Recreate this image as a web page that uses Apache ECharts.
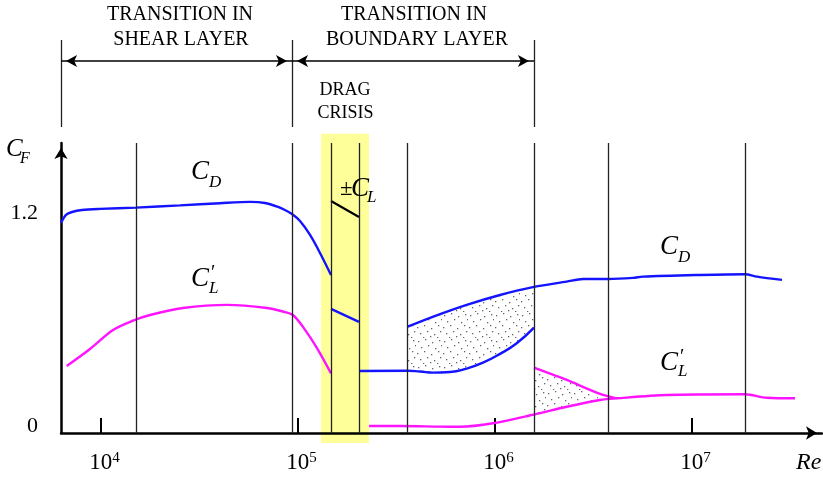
<!DOCTYPE html>
<html>
<head>
<meta charset="utf-8">
<script src="https://cdn.jsdelivr.net/npm/echarts@6/dist/echarts.min.js"></script>
<style>
  html, body { margin: 0; padding: 0; background: #fff; }
  #chart { width: 823px; height: 477px; }
</style>
</head>
<body>
<div id="chart"></div>
<script>
// Reynolds-number axis (log scale)
const reMin = 6266;
const reMax = 45700000;
const reTicks = [1e4, 1e5, 1e6, 1e7];
const cfTicks = [0, 1.2];

// Regime boundaries
const regimeLines = [15060, 93220, 147100, 203900, 357600, 1577000, 3746000, 18580000];
const headerLines = [6266, 93220, 1577000];
const shearLayerSpan = [6266, 93220];
const boundaryLayerSpan = [93220, 1577000];
const dragCrisisSpan = [130900, 229300];

// Mean drag coefficient, subcritical range
const cdSubRe = [6266, 6643, 7126, 8010, 9884, 15060, 25180, 40180, 57060, 68000, 79150, 85850, 93220, 102400, 115100, 129350, 147100];
const cdSubVal = [1.144, 1.188, 1.204, 1.215, 1.221, 1.228, 1.240, 1.252, 1.259, 1.253, 1.232, 1.215, 1.193, 1.155, 1.079, 0.981, 0.861];

// Drag coefficient inside the drag crisis
const cdCrisisRe = [147100, 203900];
const cdCrisisVal = [0.676, 0.605];

// Steady lift (+/- C_L) inside the drag crisis
const clSteadyRe = [147100, 203900];
const clSteadyVal = [1.264, 1.177];

// Drag coefficient, lower branch (supercritical)
const cdLowerRe = [203900, 360600, 416300, 484600, 590900, 718300, 869000, 1060300, 1289000, 1577000];
const cdLowerVal = [0.338, 0.339, 0.335, 0.329, 0.332, 0.351, 0.383, 0.431, 0.489, 0.574];

// Drag coefficient, upper branch (supercritical to transcritical)
const cdUpperRe = [360600, 486300, 718300, 1060300, 1577000, 2312000, 2797000, 3746000, 5018000, 5640000, 10980000, 18580000, 21380000, 28630000];
const cdUpperVal = [0.579, 0.634, 0.698, 0.752, 0.796, 0.825, 0.839, 0.839, 0.845, 0.852, 0.861, 0.865, 0.852, 0.834];

// Fluctuating lift coefficient, subcritical range
const clSubRe = [6697, 8794, 11507, 14540, 17734, 26080, 43610, 69590, 85850, 94330, 106000, 124870, 147100];
const clSubVal = [0.365, 0.458, 0.561, 0.612, 0.643, 0.681, 0.698, 0.681, 0.659, 0.643, 0.578, 0.463, 0.325];

// Fluctuating lift coefficient, lower branch
const clLowerRe = [229300, 329500, 525800, 664200, 976800, 1577000, 2312000, 3412000, 4148000, 7440000, 18580000, 23940000, 33330000];
const clLowerVal = [0.038, 0.038, 0.035, 0.034, 0.053, 0.101, 0.143, 0.180, 0.189, 0.207, 0.211, 0.192, 0.189];

// Fluctuating lift coefficient, upper branch
const clUpperRe = [1577000, 2312000, 3412000, 4148000];
const clUpperVal = [0.356, 0.289, 0.213, 0.189];

// Scatter bands between branches
const cdBandSpan = [360600, 1577000];
const clBandSpan = [1577000, 4148000];

const BLUE = '#1414ff';
const MAGENTA = '#ff14ff';
const SERIF = 'Liberation Serif';

function pairs(xs, ys) { return xs.map((x, i) => [x, ys[i]]); }
function within(pts, span) { return pts.filter(p => p[0] >= span[0] - 1 && p[0] <= span[1] + 1); }

// Stipple texture for the scatter bands
function stipple() {
  const c = document.createElement('canvas');
  c.width = 26; c.height = 26;
  const g = c.getContext('2d');
  g.fillStyle = '#666';
  const dots = [[2,3],[9,1],[16,4],[23,2],[5,9],[12,7],[19,10],[25,7],[1,15],[8,13],[15,16],[22,13],
                [4,21],[11,19],[18,22],[24,19],[7,25],[14,24],[21,25]];
  dots.forEach(d => g.fillRect(d[0], d[1], 1.3, 1.3));
  return c;
}
const stipplePattern = { image: stipple(), repeat: 'repeat' };

function band(upper, lower, span) {
  const up = within(upper, span);
  const lo = within(lower, span).reverse();
  return {
    type: 'custom', xAxisIndex: 0, yAxisIndex: 0, z: 1, silent: true,
    data: [[span[0], 0]],
    renderItem: (params, api) => ({
      type: 'polygon',
      shape: { points: up.concat(lo).map(p => api.coord(p)) },
      style: { fill: stipplePattern, stroke: null }
    })
  };
}

function curve(xs, ys, color, width, smooth) {
  return {
    type: 'line', xAxisIndex: 0, yAxisIndex: 0, z: 3,
    data: pairs(xs, ys), showSymbol: false, symbol: 'none',
    smooth: smooth, lineStyle: { color: color, width: width }, silent: true
  };
}

function t(x, y, text, size, italic, align) {
  return {
    type: 'text', x: x, y: y, z: 10, silent: true,
    style: {
      text: text, fill: '#000', align: align || 'left', verticalAlign: 'middle',
      font: (italic ? 'italic ' : '') + size + 'px "' + SERIF + '"'
    }
  };
}

const chart = echarts.init(document.getElementById('chart'), null, { renderer: 'canvas' });

chart.setOption({
  animation: false,
  backgroundColor: '#fff',
  grid: [
    { left: 61, top: 143, width: 761, height: 290 },
    { left: 61, top: 40, width: 761, height: 87 }
  ],
  xAxis: [
    {
      type: 'log', logBase: 10, min: reMin, max: reMax, gridIndex: 0,
      axisLine: { show: true, lineStyle: { color: '#000', width: 2.5 },
        symbol: ['none', 'arrow'], symbolSize: [10, 11], symbolOffset: [0, -5] },
      axisTick: { show: true, inside: true, length: 15, lineStyle: { color: '#000', width: 2 }, customValues: reTicks },
      minorTick: { show: false },
      splitLine: { show: false },
      axisLabel: {
        customValues: reTicks, margin: 18,
        formatter: v => '{b|10}{e|' + Math.round(Math.log10(v)) + '}',
        rich: {
          b: { fontFamily: SERIF, fontSize: 23, color: '#000', padding: [0, 0, 0, 7] },
          e: { fontFamily: SERIF, fontSize: 15, color: '#000', verticalAlign: 'top', padding: [0, 0, 6, 0] }
        }
      }
    },
    {
      type: 'log', logBase: 10, min: reMin, max: reMax, gridIndex: 1, show: false
    }
  ],
  yAxis: [
    {
      type: 'value', min: 0, max: 1.58, gridIndex: 0,
      axisLine: { show: true, lineStyle: { color: '#000', width: 2.5 },
        symbol: ['none', 'arrow'], symbolSize: [10, 11], symbolOffset: [0, -5] },
      axisTick: { show: false },
      splitLine: { show: false },
      axisLabel: {
        customValues: cfTicks, margin: 23,
        formatter: v => v === 0 ? '{z|0}' : '{n|' + v.toFixed(1) + '}',
        rich: {
          n: { fontFamily: SERIF, fontSize: 22, color: '#000' },
          z: { fontFamily: SERIF, fontSize: 22, color: '#000', padding: [0, 0, 14, 0] }
        }
      }
    },
    { type: 'value', min: 0, max: 1, gridIndex: 1, show: false }
  ],
  series: [
    // Drag crisis highlight
    {
      type: 'custom', xAxisIndex: 0, yAxisIndex: 0, z: -1, silent: true,
      data: [[dragCrisisSpan[0], 0]],
      renderItem: (params, api) => {
        const a = api.coord([dragCrisisSpan[0], 1.63]);
        const b = api.coord([dragCrisisSpan[1], -0.055]);
        return { type: 'rect', shape: { x: a[0], y: a[1], width: b[0] - a[0], height: b[1] - a[1] },
          style: { fill: '#ffff9a' } };
      }
    },
    // Regime guide lines
    {
      type: 'line', xAxisIndex: 0, yAxisIndex: 0, data: [], silent: true,
      markLine: {
        silent: true, symbol: 'none', label: { show: false },
        lineStyle: { color: '#222', width: 1.3, type: 'solid' },
        data: regimeLines.map(v => ({ xAxis: v }))
      }
    },
    band(pairs(cdUpperRe, cdUpperVal), pairs(cdLowerRe, cdLowerVal), cdBandSpan),
    band(pairs(clUpperRe, clUpperVal), pairs(clLowerRe, clLowerVal), clBandSpan),
    curve(cdSubRe, cdSubVal, BLUE, 2.4, 0.3),
    curve(cdCrisisRe, cdCrisisVal, BLUE, 2.4, false),
    curve(clSteadyRe, clSteadyVal, '#000', 2.2, false),
    curve(cdLowerRe, cdLowerVal, BLUE, 2.4, 0.5),
    curve(cdUpperRe, cdUpperVal, BLUE, 2.4, 0.3),
    curve(clSubRe, clSubVal, MAGENTA, 2.4, 0.3),
    curve(clLowerRe, clLowerVal, MAGENTA, 2.4, 0.3),
    curve(clUpperRe, clUpperVal, MAGENTA, 2.4, 0.2),
    // Header: regime spans
    {
      type: 'line', xAxisIndex: 1, yAxisIndex: 1, data: [], silent: true,
      markLine: {
        silent: true, symbol: 'none', label: { show: false },
        lineStyle: { color: '#222', width: 1.3, type: 'solid' },
        data: headerLines.map(v => ({ xAxis: v }))
      }
    },
    {
      type: 'line', xAxisIndex: 1, yAxisIndex: 1, data: [], silent: true,
      markLine: {
        silent: true, symbol: ['arrow', 'arrow'], symbolSize: [9, 11], symbolOffset: [[0, 5], [0, 5]],
        label: { show: false },
        lineStyle: { color: '#000', width: 1.6, type: 'solid' },
        data: [
          [{ coord: [shearLayerSpan[0], 0.7586] }, { coord: [shearLayerSpan[1], 0.7586] }],
          [{ coord: [boundaryLayerSpan[0], 0.7586] }, { coord: [boundaryLayerSpan[1], 0.7586] }]
        ]
      }
    }
  ],
  graphic: [
    t(180, 15, 'TRANSITION IN', 20, false, 'center'),
    t(181, 39.5, 'SHEAR LAYER', 20, false, 'center'),
    t(414, 15, 'TRANSITION IN', 20, false, 'center'),
    t(417, 39.5, 'BOUNDARY LAYER', 20, false, 'center'),
    t(345, 90, 'DRAG', 18, false, 'center'),
    t(345.5, 113.5, 'CRISIS', 18, false, 'center'),
    // C_F
    t(6, 149.5, 'C', 25, true), t(20, 159, 'F', 16, true),
    // C_D (left)
    t(191, 171.5, 'C', 27, true), t(209, 183, 'D', 17, true),
    // C'_L (left)
    t(191, 278.5, 'C', 27, true), t(211, 274, '\u2032', 20, false), t(209, 289, 'L', 17, true),
    // +/- C_L
    t(340, 189, '\u00b1', 23, false), t(351, 188.5, 'C', 27, true), t(367, 198, 'L', 17, true),
    // C_D (right)
    t(660, 247, 'C', 27, true), t(678, 258, 'D', 17, true),
    // C'_L (right)
    t(660, 362.5, 'C', 27, true), t(680, 358, '\u2032', 20, false), t(678, 371.5, 'L', 17, true),
    // Re
    t(796, 463, 'Re', 24, true)
  ]
});
</script>
</body>
</html>
